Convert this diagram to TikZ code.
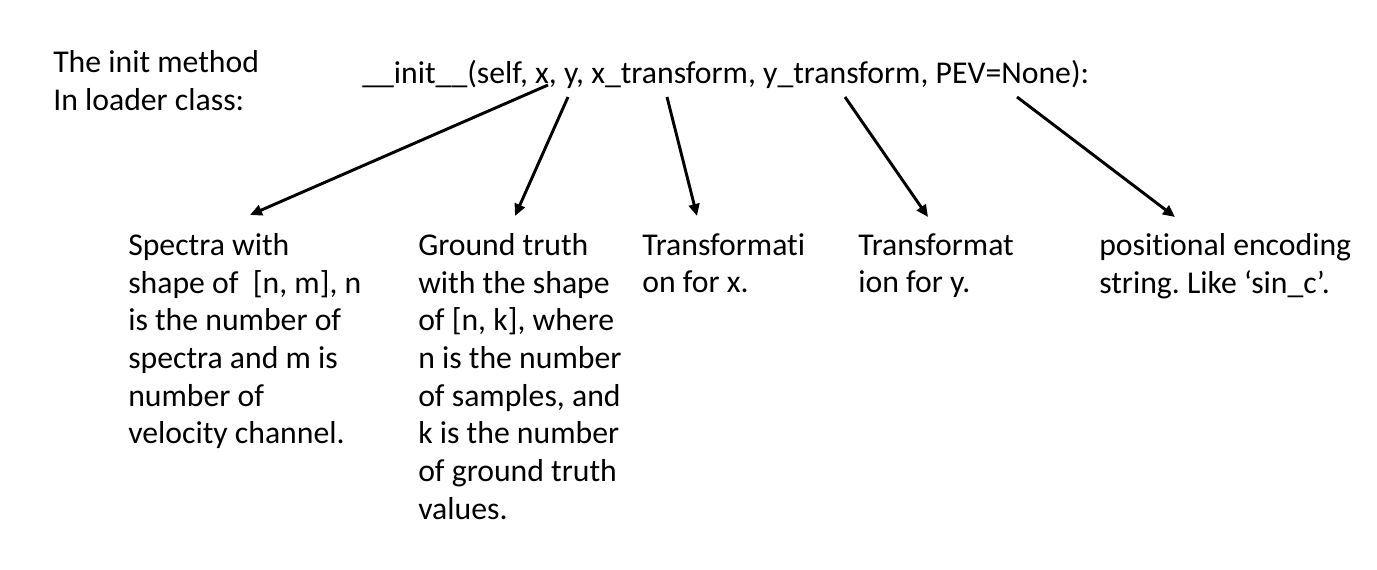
\documentclass[tikz,border=0pt]{standalone}
\usepackage{fontspec}
\setmainfont{Carlito}[Ligatures=NoCommon]
\usetikzlibrary{arrows.meta}
\frenchspacing
\begin{document}
\begin{tikzpicture}[x=0.75pt,y=-0.75pt,
  txt/.style={anchor=north west,inner sep=0pt,align=left,font=\fontsize{23.8}{28.3}\selectfont},
  arr/.style={line width=2.2pt,-{Triangle[length=9pt,width=8pt]}}]
\useasboundingbox (0,0) rectangle (1377,570);
\node[txt] (lbl) at (53,50) {The init method\\In loader class:};
\node[txt] (sig) at (362,60) {\_\_init\_\_(self, x, y, x\_transform, y\_transform, PEV=None):};
\node[txt] (t1) at (128,233) {Spectra with\\shape of~~[n, m], n\\is the number of\\spectra and m is\\number of\\velocity channel.};
\node[txt] (t2) at (418,233) {Ground truth\\with the shape\\of [n, k], where\\n is the number\\of samples, and\\k is the number\\of ground truth\\values.};
\node[txt] (t3) at (642,233) {Transformati\\on for x.};
\node[txt] (t4) at (858,233) {Transformat\\ion for y.};
\node[txt] (t5) at (1099,233) {positional encoding\\string. Like ‘sin\_c’.};
\coordinate (s1) at (548,85);  \coordinate (e1) at (250,215);
\coordinate (s2) at (568,97);  \coordinate (e2) at (515,216);
\coordinate (s3) at (667,97);  \coordinate (e3) at (697,216);
\coordinate (s4) at (845,97);  \coordinate (e4) at (928,217);
\coordinate (s5) at (1017,97); \coordinate (e5) at (1175,217);
\draw[arr] (s1) -- (e1);
\draw[arr] (s2) -- (e2);
\draw[arr] (s3) -- (e3);
\draw[arr] (s4) -- (e4);
\draw[arr] (s5) -- (e5);
\end{tikzpicture}
\end{document}
